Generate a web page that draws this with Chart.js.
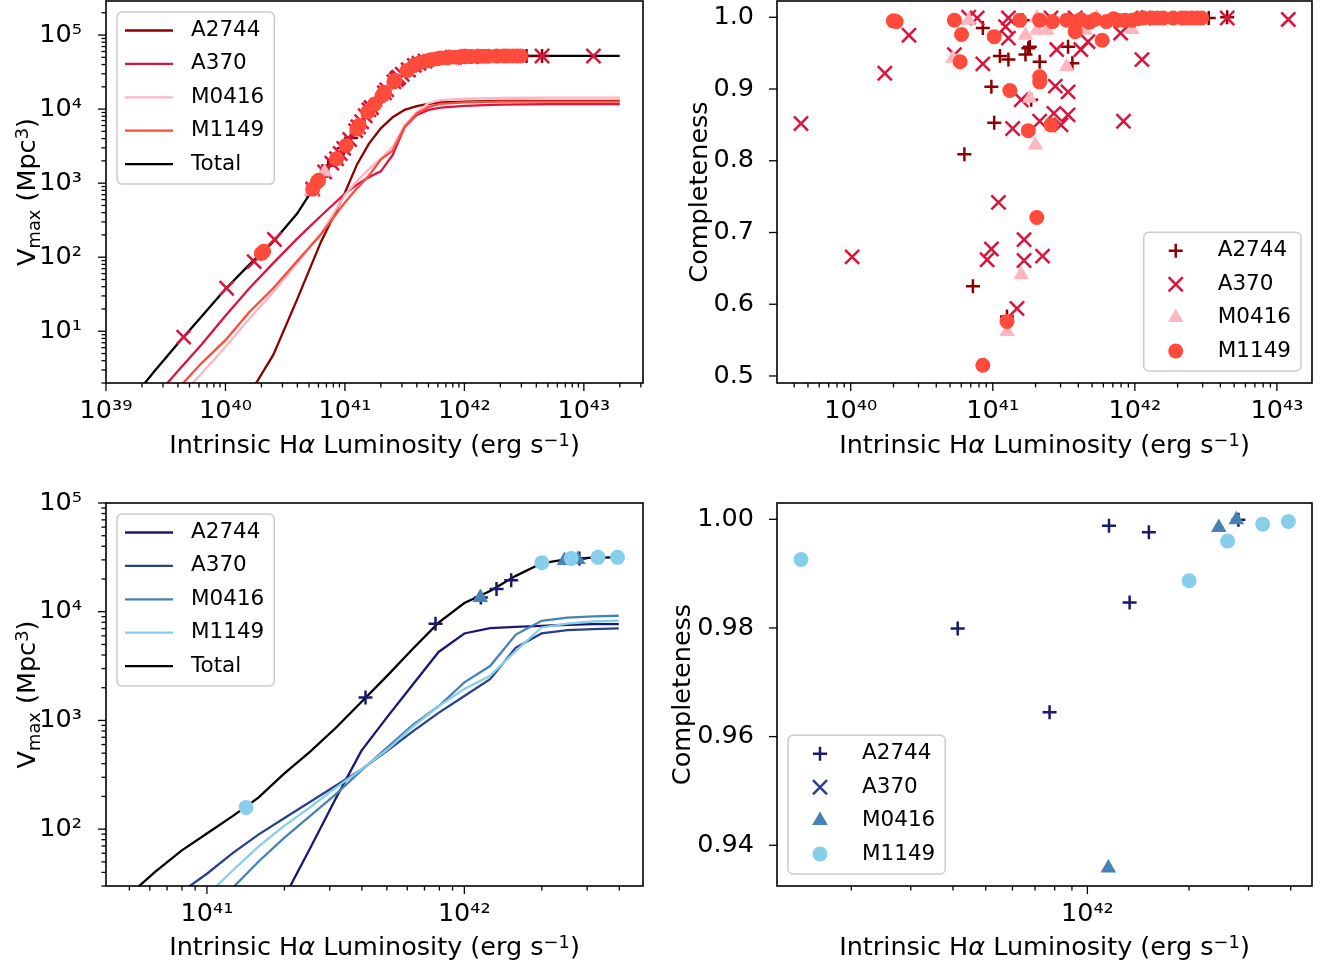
<!DOCTYPE html>
<html>
<head>
<meta charset="utf-8">
<script src="https://cdn.jsdelivr.net/npm/chart.js@4.4.1/dist/chart.umd.min.js"></script>
<style>
  html, body { margin: 0; padding: 0; background: #fff; }
  #figure { position: relative; width: 1323px; height: 968px; }
  #figure canvas { position: absolute; }
</style>
</head>
<body>
<div id="figure">
  <canvas id="vmaxTop" width="661" height="484" style="left:0;top:0"></canvas>
  <canvas id="compTop" width="662" height="484" style="left:661px;top:0"></canvas>
  <canvas id="vmaxBottom" width="661" height="484" style="left:0;top:484px"></canvas>
  <canvas id="compBottom" width="662" height="484" style="left:661px;top:484px"></canvas>
</div>
<script>
// luminosities are log10(L / erg s^-1), volumes are log10(Vmax / Mpc^3)
const fields = ['A2744', 'A370', 'M0416', 'M1149'];

// ---- top row: full sample ----
const curveLumTop = [39.0, 39.2, 39.4, 39.6, 39.8, 40.0, 40.2, 40.4, 40.6, 40.8, 41.0, 41.1, 41.2, 41.3, 41.4, 41.5, 41.6, 41.7, 41.8, 42.0, 42.3, 42.7, 43.0, 43.3];
const vmaxTopA2744 = [null, null, null, null, null, -0.2, 0.15, 0.68, 1.43, 2.21, 2.87, 3.25, 3.53, 3.74, 3.89, 3.99, 4.04, 4.07, 4.09, 4.10, 4.11, 4.11, 4.11, 4.11];
const vmaxTopA370 = [null, null, 0.09, 0.46, 0.82, 1.21, 1.58, 1.92, 2.25, 2.56, 2.86, 2.98, 3.08, 3.16, 3.38, 3.76, 3.92, 3.99, 4.02, 4.045, 4.06, 4.066, 4.066, 4.066];
const vmaxTopM0416 = [null, null, -0.26, 0.09, 0.43, 0.79, 1.17, 1.53, 1.92, 2.32, 2.84, 3.03, 3.19, 3.33, 3.49, 3.78, 3.96, 4.08, 4.12, 4.14, 4.15, 4.155, 4.155, 4.155];
const vmaxTopM1149 = [null, null, -0.12, 0.22, 0.57, 0.88, 1.26, 1.58, 1.95, 2.31, 2.74, 2.93, 3.10, 3.32, 3.44, 3.76, 3.94, 4.03, 4.07, 4.09, 4.10, 4.10, 4.10, 4.10];
const vmaxTopTotal = [-0.35, 0.05, 0.45, 0.83, 1.20, 1.57, 1.90, 2.21, 2.59, 3.09, 3.49, 3.73, 3.99, 4.16, 4.36, 4.50, 4.61, 4.66, 4.69, 4.71, 4.717, 4.718, 4.718, 4.718];

const lumA2744 = [40.80, 40.86, 40.93, 40.99, 41.01, 41.05, 41.10, 41.11, 41.21, 41.23, 41.25, 41.26, 41.27, 41.33, 41.53, 41.56, 42.05, 42.52, 42.65];
const compA2744 = [0.809, 0.625, 0.985, 0.903, 0.853, 0.946, 0.583, 0.941, 0.996, 0.948, 0.957, 0.959, 0.885, 0.938, 0.959, 0.936, 1.000, 0.999, 1.000];
const vmaxA2744 = [3.09, 3.24, 3.33, 3.47, 3.51, 3.61, 3.73, 3.76, 4.01, 4.04, 4.07, 4.09, 4.11, 4.22, 4.53, 4.57, 4.71, 4.718, 4.718];

const lumA370 = [39.65, 40.01, 40.24, 40.41, 40.73, 40.83, 40.89, 40.93, 40.96, 40.99, 41.04, 41.09, 41.11, 41.11, 41.14, 41.17, 41.20, 41.22, 41.22, 41.33, 41.35, 41.41, 41.43, 41.44, 41.45, 41.48, 41.53, 41.53, 41.58, 41.62, 41.67, 41.90, 41.92, 42.05, 42.06, 42.65, 43.08];
const compA370 = [0.852, 0.666, 0.922, 0.975, 0.948, 1.000, 0.999, 0.935, 0.662, 0.677, 0.742, 0.987, 0.971, 0.999, 0.845, 0.594, 0.885, 0.690, 0.661, 0.855, 0.667, 0.999, 0.866, 0.904, 0.955, 0.850, 0.896, 0.864, 0.999, 0.955, 0.966, 0.978, 0.855, 0.941, 0.999, 0.999, 0.997];
const vmaxA370 = [0.92, 1.58, 1.94, 2.24, 2.92, 3.15, 3.27, 3.33, 3.40, 3.47, 3.59, 3.71, 3.76, 3.76, 3.83, 3.91, 3.99, 4.02, 4.02, 4.22, 4.26, 4.37, 4.40, 4.42, 4.43, 4.47, 4.53, 4.53, 4.59, 4.62, 4.65, 4.70, 4.70, 4.71, 4.71, 4.718, 4.718];

const lumM0416 = [40.72, 40.83, 41.10, 41.20, 41.23, 41.26, 41.30, 41.31, 41.31, 41.38, 41.52, 41.65, 41.73, 41.98];
const compM0416 = [0.943, 0.996, 0.562, 0.641, 0.975, 0.887, 0.822, 0.982, 0.999, 0.982, 0.931, 0.982, 0.999, 0.983];
const vmaxM0416 = [2.89, 3.15, 3.73, 3.99, 4.04, 4.09, 4.16, 4.18, 4.18, 4.32, 4.52, 4.64, 4.67, 4.71];

const lumM1149 = [40.30, 40.32, 40.73, 40.77, 40.78, 40.93, 41.01, 41.10, 41.12, 41.19, 41.25, 41.31, 41.33, 41.33, 41.33, 41.41, 41.42, 41.52, 41.58, 41.59, 41.62, 41.68, 41.72, 41.77, 41.80, 41.85, 41.88, 41.93, 41.98, 42.02, 42.06, 42.12, 42.16, 42.20, 42.27, 42.33, 42.36, 42.40, 42.44, 42.47];
const compM1149 = [0.995, 0.994, 0.996, 0.938, 0.976, 0.515, 0.973, 0.576, 0.898, 0.996, 0.842, 0.721, 0.917, 0.910, 0.996, 0.850, 0.994, 0.996, 0.980, 0.994, 0.997, 0.993, 0.997, 0.968, 0.994, 0.998, 0.996, 0.996, 0.996, 0.998, 0.999, 0.999, 0.999, 0.999, 0.999, 0.999, 0.999, 0.999, 0.999, 0.999];
const vmaxM1149 = [2.05, 2.08, 2.92, 3.02, 3.04, 3.33, 3.51, 3.73, 3.78, 3.96, 4.07, 4.18, 4.22, 4.22, 4.22, 4.37, 4.39, 4.52, 4.59, 4.60, 4.62, 4.65, 4.665, 4.68, 4.69, 4.695, 4.70, 4.70, 4.71, 4.71, 4.711, 4.713, 4.714, 4.715, 4.716, 4.717, 4.717, 4.717, 4.717, 4.717];

// ---- bottom row: bright subsample ----
const curveLumBot = [40.6, 40.7, 40.8, 40.9, 41.0, 41.1, 41.2, 41.3, 41.4, 41.5, 41.6, 41.7, 41.8, 41.9, 42.0, 42.1, 42.2, 42.3, 42.4, 42.5, 42.6];
const vmaxBotA2744 = [null, null, null, null, null, null, 0.93, 1.37, 1.82, 2.28, 2.72, 3.03, 3.33, 3.63, 3.80, 3.85, 3.86, 3.87, 3.88, 3.885, 3.886];
const vmaxBotA370 = [0.95, 1.11, 1.27, 1.42, 1.59, 1.78, 1.95, 2.10, 2.25, 2.40, 2.55, 2.72, 2.90, 3.07, 3.225, 3.38, 3.67, 3.80, 3.83, 3.84, 3.846];
const vmaxBotM0416 = [0.31, 0.54, 0.77, 1.00, 1.23, 1.46, 1.70, 1.92, 2.12, 2.32, 2.54, 2.75, 2.96, 3.13, 3.35, 3.50, 3.79, 3.917, 3.945, 3.958, 3.963];
const vmaxBotM1149 = [0.47, 0.70, 0.93, 1.16, 1.39, 1.62, 1.84, 2.03, 2.20, 2.38, 2.55, 2.73, 2.94, 3.13, 3.29, 3.41, 3.64, 3.855, 3.89, 3.91, 3.917];
const vmaxBotTotal = [1.24, 1.40, 1.61, 1.80, 1.96, 2.12, 2.29, 2.51, 2.71, 2.93, 3.17, 3.41, 3.66, 3.90, 4.08, 4.19, 4.33, 4.445, 4.483, 4.497, 4.50];

const lumBotA2744 = [41.616, 41.888, 42.064, 42.125, 42.182, 42.447];
const compBotA2744 = [0.9799, 0.9645, 0.9988, 0.9847, 0.9976, 0.9999];
const vmaxBotA2744p = [3.21, 3.89, 4.13, 4.21, 4.29, 4.49];
const lumBotA370 = [];
const compBotA370 = [];
const vmaxBotA370p = [];
const lumBotM0416 = [42.062, 42.389, 42.441];
const compBotM0416 = [0.9358, 0.9985, 0.9999];
const vmaxBotM0416p = [4.13, 4.47, 4.48];
const lumBotM1149 = [41.152, 42.301, 42.415, 42.519, 42.595];
const compBotM1149 = [0.9926, 0.9887, 0.9960, 0.9991, 0.9996];
const vmaxBotM1149p = [2.20, 4.45, 4.49, 4.50, 4.50];

// tick positions of the linear completeness axes
const compTicksTop = [0.5, 0.6, 0.7, 0.8, 0.9, 1.0];
const compTicksBot = [0.94, 0.96, 0.98, 1.00];

const reds = ['#8b0000', '#dc143c', '#ffb6c1', '#ff4b3b'];
const blues = ['#191970', '#27408b', '#4682b4', '#87ceeb'];
const markerStyles = [
  { pointStyle: 'cross', r: 7, bw: 2.5 },
  { pointStyle: 'crossRot', r: 10, bw: 2.5 },
  { pointStyle: 'triangle', r: 9, bw: 0 },
  { pointStyle: 'circle', r: 7.5, bw: 0 },
];

const FONT = '"DejaVu Sans", sans-serif';
const TICK_SIZE = 25.5;
const LABEL_SIZE = 25.5;
const LEGEND_SIZE = 21.5;
Chart.defaults.font.family = FONT;
Chart.defaults.color = '#000';
Chart.defaults.animation = false;

const pts = (xs, ys, logY) => xs.map((x, i) => ({
  x: Math.pow(10, x),
  y: ys[i] === null ? null : (logY ? Math.pow(10, ys[i]) : ys[i]),
}));

const SUP = '⁰¹²³⁴⁵⁶⁷⁸⁹';
const decadeLabel = v => {
  const l = Math.log10(v), r = Math.round(l);
  if (Math.abs(l - r) > 1e-6) return '';
  return '10' + String(r).split('').map(c => SUP[+c]).join('');
};

function logTicks(lo, hi) {
  const out = [];
  for (let d = Math.floor(lo); d <= Math.ceil(hi); d++) {
    for (let m = 1; m <= 9; m++) {
      const l = Math.log10(m) + d;
      if (l >= lo - 1e-9 && l <= hi + 1e-9) out.push({ value: m * Math.pow(10, d), major: m === 1 });
    }
  }
  return out;
}

function axis(kind, lo, hi, side, size, opts = {}) {
  const isLog = kind === 'log';
  return {
    type: isLog ? 'logarithmic' : 'linear',
    min: isLog ? Math.pow(10, lo) : lo,
    max: isLog ? Math.pow(10, hi) : hi,
    grid: { display: false },
    border: { display: false },
    afterBuildTicks: s => {
      s.ticks = isLog ? logTicks(lo, hi) : opts.ticks.map(v => ({ value: v, major: true }));
    },
    afterFit: s => {
      if (side === 'x') { s.height = size; s.paddingLeft = 0; s.paddingRight = 0; }
      else { s.width = size; s.paddingTop = 0; s.paddingBottom = 0; }
    },
    ticks: {
      autoSkip: false,
      maxRotation: 0,
      minRotation: 0,
      padding: opts.padding,
      font: { size: TICK_SIZE },
      color: '#000',
      callback: isLog ? v => decadeLabel(v) : v => v.toFixed(opts.digits),
    },
  };
}

function lineSet(label, color, ys, lum, order) {
  return {
    label, data: pts(lum, ys, true), showLine: true,
    borderColor: color, backgroundColor: color, borderWidth: 2.3,
    pointRadius: 0, order,
  };
}

function markSet(label, k, color, lum, ys, logY) {
  const m = markerStyles[k];
  return {
    label, data: pts(lum, ys, logY), showLine: false,
    pointStyle: m.pointStyle, pointRadius: m.r, pointBorderWidth: m.bw,
    pointBackgroundColor: color, pointBorderColor: color, order: 4 - k,
  };
}

function drawMarker(ctx, k, x, y, color) {
  const m = markerStyles[k], r = m.r;
  ctx.fillStyle = color; ctx.strokeStyle = color; ctx.lineWidth = m.bw;
  ctx.beginPath();
  if (m.pointStyle === 'circle') {
    ctx.arc(x, y, r, 0, Math.PI * 2); ctx.fill();
  } else if (m.pointStyle === 'triangle') {
    for (let i = 0; i < 3; i++) {
      const a = i * 2 * Math.PI / 3;
      ctx[i ? 'lineTo' : 'moveTo'](x + Math.sin(a) * r, y - Math.cos(a) * r);
    }
    ctx.closePath(); ctx.fill();
  } else {
    const a = m.pointStyle === 'crossRot' ? Math.PI / 4 : 0;
    const dx = Math.cos(a) * r, dy = Math.sin(a) * r;
    ctx.moveTo(x - dx, y - dy); ctx.lineTo(x + dx, y + dy);
    ctx.moveTo(x + dy, y - dx); ctx.lineTo(x - dy, y + dx);
    ctx.stroke();
  }
}

// text with math-style superscripts / subscripts, centred on x
function richText(ctx, parts, size, x, y) {
  const fontOf = p => `${p.it ? 'italic ' : ''}${p.sup || p.sub ? size * 0.7 : size}px ${FONT}`;
  let w = 0;
  parts.forEach(p => { ctx.font = fontOf(p); p.w = ctx.measureText(p.t).width; w += p.w; });
  let cx = x - w / 2;
  ctx.textAlign = 'left';
  ctx.textBaseline = 'alphabetic';
  ctx.fillStyle = '#000';
  parts.forEach(p => {
    ctx.font = fontOf(p);
    const dy = p.sup ? -size * 0.28 : p.sub ? size * 0.18 : 0;
    ctx.fillText(p.t, cx, y + dy);
    cx += p.w;
  });
}

const xTitleParts = [
  { t: 'Intrinsic H' }, { t: 'α', it: true }, { t: ' Luminosity (erg s' }, { t: '−1', sup: true }, { t: ')' },
];
const vmaxTitleParts = [{ t: 'V' }, { t: 'max', sub: true }, { t: ' (Mpc' }, { t: '3', sup: true }, { t: ')' }];
const compTitleParts = [{ t: 'Completeness' }];

function framePlugin(cfg) {
  return {
    id: 'frame',
    afterDatasetsDraw(chart) {
      const { ctx, chartArea: a } = chart;
      ctx.save();
      // box and outward tick marks
      ctx.strokeStyle = '#000';
      ctx.lineWidth = 1.6;
      ctx.strokeRect(a.left, a.top, a.right - a.left, a.bottom - a.top);
      ctx.lineWidth = 1.3;
      ['x', 'y'].forEach(id => {
        const s = chart.scales[id];
        s.ticks.forEach(t => {
          const len = t.major ? 8 : 4.5;
          const p = s.getPixelForValue(t.value);
          ctx.beginPath();
          if (id === 'x') { ctx.moveTo(p, a.bottom); ctx.lineTo(p, a.bottom + len); }
          else { ctx.moveTo(a.left, p); ctx.lineTo(a.left - len, p); }
          ctx.stroke();
        });
      });

      // legend
      const L = cfg.legend;
      ctx.font = `${LEGEND_SIZE}px ${FONT}`;
      const tw = Math.max(...L.items.map(it => ctx.measureText(it.label).width));
      const w = 74 + tw + 10, rowH = 33.4;
      const h = 18.5 + (L.items.length - 1) * rowH + 20;
      const x0 = L.corner.includes('left') ? a.left + 11 : a.right - 11 - w;
      const y0 = L.corner.includes('upper') ? a.top + 11 : a.bottom - 12 - h;
      ctx.beginPath();
      ctx.roundRect(x0, y0, w, h, 5);
      ctx.fillStyle = 'rgba(255,255,255,0.8)';
      ctx.fill();
      ctx.strokeStyle = '#cccccc';
      ctx.lineWidth = 1.5;
      ctx.stroke();
      L.items.forEach((it, i) => {
        const cy = y0 + 18.5 + i * rowH;
        if (it.marker === undefined) {
          ctx.strokeStyle = it.color; ctx.lineWidth = 2.3;
          ctx.beginPath(); ctx.moveTo(x0 + 8, cy); ctx.lineTo(x0 + 56, cy); ctx.stroke();
        } else {
          drawMarker(ctx, it.marker, x0 + 32, cy, it.color);
        }
        ctx.fillStyle = '#000';
        ctx.font = `${LEGEND_SIZE}px ${FONT}`;
        ctx.textAlign = 'left';
        ctx.textBaseline = 'middle';
        ctx.fillText(it.label, x0 + 74, cy);
      });

      // axis titles
      richText(ctx, xTitleParts, LABEL_SIZE, (a.left + a.right) / 2, cfg.xTitleY);
      ctx.save();
      ctx.translate(cfg.yTitleX, (a.top + a.bottom) / 2);
      ctx.rotate(-Math.PI / 2);
      richText(ctx, cfg.yTitle, LABEL_SIZE, 0, 0);
      ctx.restore();
      ctx.restore();
    },
  };
}

function panel(id, cfg) {
  return new Chart(document.getElementById(id), {
    type: 'scatter',
    data: { datasets: cfg.datasets },
    options: {
      responsive: false,
      devicePixelRatio: 1,
      events: [],
      layout: { autoPadding: false, padding: { left: 0, top: cfg.top, right: cfg.right, bottom: 0 } },
      scales: { x: cfg.x, y: cfg.y },
      plugins: { legend: { display: false }, tooltip: { enabled: false } },
    },
    plugins: [framePlugin(cfg)],
  });
}

const lineLegend = pal => fields.map((f, i) => ({ label: f, color: pal[i] })).concat([{ label: 'Total', color: '#000' }]);
const markLegend = pal => fields.map((f, i) => ({ label: f, color: pal[i], marker: i }));

// Vmax, full sample
panel('vmaxTop', {
  top: 1, right: 18, xTitleY: 453, yTitleX: 35, yTitle: vmaxTitleParts,
  x: axis('log', 39.0, 43.495, 'x', 101, { padding: 5 }),
  y: axis('log', Math.log10(2), 5.46, 'y', 106, { padding: 16 }),
  legend: { corner: 'upper left', items: lineLegend(reds) },
  datasets: [
    lineSet('A2744', reds[0], vmaxTopA2744, curveLumTop, 9),
    lineSet('A370', reds[1], vmaxTopA370, curveLumTop, 8),
    lineSet('M0416', reds[2], vmaxTopM0416, curveLumTop, 7),
    lineSet('M1149', reds[3], vmaxTopM1149, curveLumTop, 6),
    lineSet('Total', '#000', vmaxTopTotal, curveLumTop, 5),
    markSet('A2744', 0, reds[0], lumA2744, vmaxA2744, true),
    markSet('A370', 1, reds[1], lumA370, vmaxA370, true),
    markSet('M0416', 2, reds[2], lumM0416, vmaxM0416, true),
    markSet('M1149', 3, reds[3], lumM1149, vmaxM1149, true),
  ],
});

// completeness, full sample
panel('compTop', {
  top: 1, right: 11, xTitleY: 453, yTitleX: 46, yTitle: compTitleParts,
  x: axis('log', 39.481, 43.247, 'x', 101, { padding: 5 }),
  y: axis('lin', 0.4902, 1.0227, 'y', 116, { padding: 15, ticks: compTicksTop, digits: 1 }),
  legend: { corner: 'lower right', items: markLegend(reds) },
  datasets: [
    markSet('A2744', 0, reds[0], lumA2744, compA2744, false),
    markSet('A370', 1, reds[1], lumA370, compA370, false),
    markSet('M0416', 2, reds[2], lumM0416, compM0416, false),
    markSet('M1149', 3, reds[3], lumM1149, compM1149, false),
  ],
});

// Vmax, bright subsample
panel('vmaxBottom', {
  top: 19, right: 18, xTitleY: 471, yTitleX: 35, yTitle: vmaxTitleParts,
  x: axis('log', 40.608, 42.694, 'x', 82, { padding: 5 }),
  y: axis('log', Math.log10(30), 5, 'y', 106, { padding: 16 }),
  legend: { corner: 'upper left', items: lineLegend(blues) },
  datasets: [
    lineSet('A2744', blues[0], vmaxBotA2744, curveLumBot, 9),
    lineSet('A370', blues[1], vmaxBotA370, curveLumBot, 8),
    lineSet('M0416', blues[2], vmaxBotM0416, curveLumBot, 7),
    lineSet('M1149', blues[3], vmaxBotM1149, curveLumBot, 6),
    lineSet('Total', '#000', vmaxBotTotal, curveLumBot, 5),
    markSet('A2744', 0, blues[0], lumBotA2744, vmaxBotA2744p, true),
    markSet('A370', 1, blues[1], lumBotA370, vmaxBotA370p, true),
    markSet('M0416', 2, blues[2], lumBotM0416, vmaxBotM0416p, true),
    markSet('M1149', 3, blues[3], lumBotM1149, vmaxBotM1149p, true),
  ],
});

// completeness, bright subsample
panel('compBottom', {
  top: 19, right: 11, xTitleY: 471, yTitleX: 29, yTitle: compTitleParts,
  x: axis('log', 41.081, 42.665, 'x', 82, { padding: 5 }),
  y: axis('lin', 0.9325, 1.003, 'y', 116, { padding: 15, ticks: compTicksBot, digits: 2 }),
  legend: { corner: 'lower left', items: markLegend(blues) },
  datasets: [
    markSet('A2744', 0, blues[0], lumBotA2744, compBotA2744, false),
    markSet('A370', 1, blues[1], lumBotA370, compBotA370, false),
    markSet('M0416', 2, blues[2], lumBotM0416, compBotM0416, false),
    markSet('M1149', 3, blues[3], lumBotM1149, compBotM1149, false),
  ],
});
</script>
</body>
</html>
